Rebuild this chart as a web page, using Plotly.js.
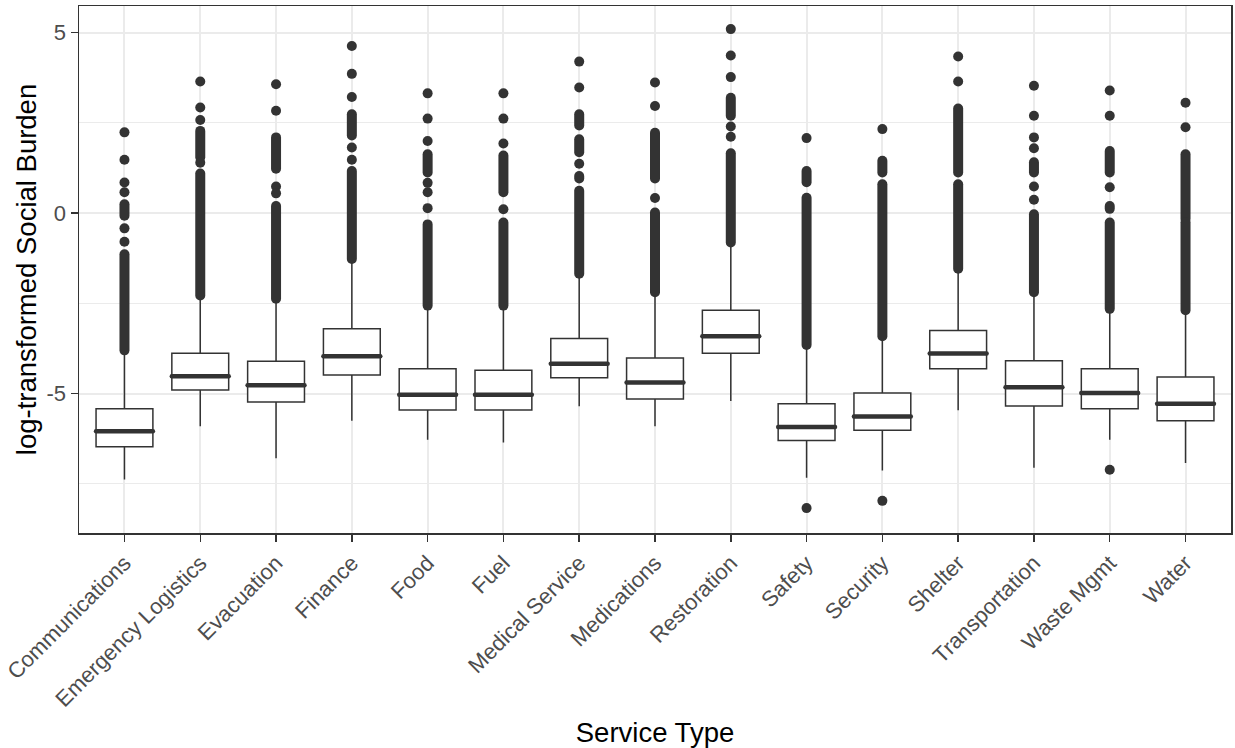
<!DOCTYPE html>
<html>
<head>
<meta charset="utf-8">
<script src="https://cdn.plot.ly/plotly-3.0.1.min.js"></script>
<style>
  html, body { margin: 0; padding: 0; background: #ffffff; }
  #chart { width: 1235px; height: 748px; }
  /* rounded ends for the stacked outlier columns */
  .scatterlayer .js-line { stroke-linecap: round; }
</style>
</head>
<body>
<div id="chart"></div>
<script>
// Service types on the x axis
const categories = [
  "Communications", "Emergency Logistics", "Evacuation", "Finance", "Food",
  "Fuel", "Medical Service", "Medications", "Restoration", "Safety",
  "Security", "Shelter", "Transportation", "Waste Mgmt", "Water"
];

// Box statistics (log-transformed social burden)
const q1 =         [-6.47, -4.90, -5.23, -4.48, -5.45, -5.45, -4.56, -5.15, -3.88, -6.30, -6.01, -4.31, -5.34, -5.42, -5.75];
const median =     [-6.04, -4.52, -4.77, -3.96, -5.03, -5.03, -4.17, -4.69, -3.41, -5.92, -5.63, -3.89, -4.82, -4.98, -5.28];
const q3 =         [-5.42, -3.88, -4.10, -3.20, -4.31, -4.35, -3.47, -4.01, -2.69, -5.28, -4.98, -3.25, -4.09, -4.31, -4.54];
const whiskerLow = [-7.38, -5.90, -6.79, -5.75, -6.28, -6.35, -5.35, -5.90, -5.20, -7.33, -7.13, -5.46, -7.05, -6.28, -6.92];
const whiskerHigh= [-3.85, -2.35, -2.45, -1.35, -2.62, -2.62, -1.75, -2.25, -0.88, -3.72, -3.48, -1.60, -2.25, -2.72, -2.75];

// Isolated outliers per service type
const outlierDots = [
  [2.24, 1.48, 0.85, 0.58, -0.42, -0.79],
  [3.65, 2.93, 2.58, 1.40],
  [3.57, 2.84, 0.74, 0.55],
  [4.63, 3.86, 3.22, 1.82, 1.48],
  [3.32, 2.62, 2.00, 0.84, 0.58, 0.14],
  [3.32, 2.62, 1.93, 0.11],
  [4.20, 3.48, 1.37],
  [3.62, 2.97, 0.42],
  [5.10, 4.37, 3.77, 2.40, 2.12],
  [2.08, -8.17],
  [2.33, -7.97],
  [4.34, 3.65],
  [3.53, 2.70, 2.10, 1.80, 0.74, 0.37],
  [3.40, 2.70, 0.72, -7.11],
  [3.06, 2.38]
];

// Stretches where outliers overlap into a solid column: [top, bottom]
const outlierRuns = [
  [[0.25, -0.07], [-1.14, -3.80]],
  [[2.28, 1.55], [1.10, -2.28]],
  [[2.10, 1.23], [0.20, -2.37]],
  [[2.74, 2.15], [1.17, -1.27]],
  [[1.63, 1.13], [-0.31, -2.56]],
  [[1.60, 0.58], [-0.26, -2.56]],
  [[2.74, 2.43], [2.05, 1.69], [1.03, 0.96], [0.62, -1.68]],
  [[2.23, 0.96], [0.02, -2.19]],
  [[3.20, 2.70], [1.66, -0.81]],
  [[1.17, 0.86], [0.43, -3.65]],
  [[1.45, 1.13], [0.80, -3.41]],
  [[2.90, 1.13], [0.80, -1.54]],
  [[1.41, 1.13], [-0.03, -2.19]],
  [[1.72, 1.13], [0.20, 0.12], [-0.26, -2.65]],
  [[1.63, -0.16], [-0.25, -2.69]]
];

const positions = categories.map((c, i) => i + 1);
const boxWidth = 0.75;
const ink = '#333333';

const boxes = {
  type: 'box',
  x: positions,
  q1: q1,
  median: median,
  q3: q3,
  lowerfence: whiskerLow,
  upperfence: whiskerHigh,
  boxpoints: false,
  width: boxWidth,
  whiskerwidth: 0,
  fillcolor: '#ffffff',
  line: { color: ink, width: 1.5 },
  hoverinfo: 'skip',
  showlegend: false
};

// thick median bars across each box
const medX = [], medY = [];
positions.forEach((p, i) => {
  medX.push(p - boxWidth / 2, p + boxWidth / 2, null);
  medY.push(median[i], median[i], null);
});
const medians = {
  type: 'scatter', mode: 'lines', x: medX, y: medY,
  line: { color: ink, width: 4.5 }, hoverinfo: 'skip', showlegend: false
};

// dense outlier columns
const runX = [], runY = [];
outlierRuns.forEach((runs, i) => {
  runs.forEach(r => {
    runX.push(positions[i], positions[i], null);
    runY.push(r[0], r[1], null);
  });
});
const runs = {
  type: 'scatter', mode: 'lines', x: runX, y: runY,
  line: { color: ink, width: 10 }, hoverinfo: 'skip', showlegend: false
};

// single outliers
const dotX = [], dotY = [];
outlierDots.forEach((vals, i) => {
  vals.forEach(v => { dotX.push(positions[i]); dotY.push(v); });
});
const dots = {
  type: 'scatter', mode: 'markers', x: dotX, y: dotY,
  marker: { color: ink, size: 10, line: { width: 0 } },
  hoverinfo: 'skip', showlegend: false
};

const fontFamily = '"Liberation Sans", Arial, sans-serif';

const layout = {
  width: 1235,
  height: 748,
  margin: { l: 79, r: 4, t: 6, b: 215 },
  paper_bgcolor: '#ffffff',
  plot_bgcolor: '#ffffff',
  font: { family: fontFamily },
  showlegend: false,
  xaxis: {
    range: [0.4, categories.length + 0.6],
    tickmode: 'array',
    tickvals: positions,
    ticktext: categories,
    tickangle: -45,
    tickfont: { family: fontFamily, size: 22, color: '#4D4D4D' },
    ticks: 'outside', ticklen: 7, tickwidth: 1.5, tickcolor: ink,
    showgrid: true, gridcolor: '#EBEBEB', gridwidth: 2,
    showline: true, mirror: true, linecolor: ink, linewidth: 1.5,
    zeroline: false,
    automargin: false,
    title: { text: 'Service Type', font: { family: fontFamily, size: 27.5, color: '#000000' }, standoff: 19 }
  },
  yaxis: {
    range: [-8.86, 5.74],
    tickmode: 'array',
    tickvals: [-5, 0, 5],
    ticktext: ['-5', '0', '5'],
    tickfont: { family: fontFamily, size: 22, color: '#4D4D4D' },
    ticks: 'outside', ticklen: 7, tickwidth: 1.5, tickcolor: ink,
    showgrid: true, gridcolor: '#EBEBEB', gridwidth: 2,
    minor: { tick0: 2.5, dtick: 5, showgrid: true, gridcolor: '#EBEBEB', gridwidth: 1, ticks: '' },
    showline: true, mirror: true, linecolor: ink, linewidth: 1.5,
    zeroline: false,
    automargin: false,
    title: { text: 'log-transformed Social Burden', font: { family: fontFamily, size: 27.5, color: '#000000' }, standoff: 2 }
  }
};

Plotly.newPlot('chart', [boxes, medians, runs, dots], layout, { staticPlot: true, displayModeBar: false });
</script>
</body>
</html>
